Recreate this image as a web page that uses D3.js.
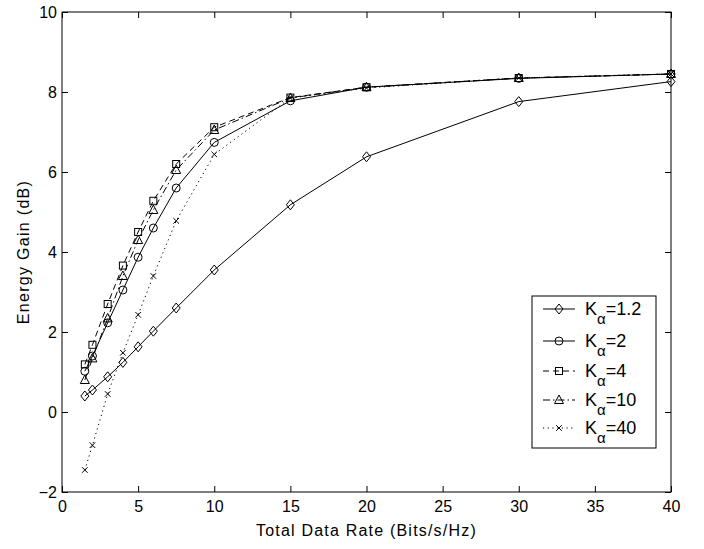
<!DOCTYPE html>
<html>
<head>
<meta charset="utf-8">
<script src="https://cdn.jsdelivr.net/npm/d3@7"></script>
<style>
  body { margin: 0; background: #fff; }
  text { font-family: "Liberation Sans", Arial, Helvetica, sans-serif; fill: #000; }
</style>
</head>
<body>
<div id="chart"></div>
<script>
const rates = [1.5, 2, 3, 4, 5, 6, 7.5, 10, 15, 20, 30, 40];
const gainK12 = [0.4, 0.55, 0.88, 1.24, 1.63, 2.02, 2.6, 3.55, 5.18, 6.38, 7.76, 8.26];
const gainK2 = [1.02, 1.4, 2.23, 3.05, 3.87, 4.6, 5.6, 6.74, 7.78, 8.12, 8.34, 8.45];
const gainK4 = [1.19, 1.68, 2.7, 3.66, 4.5, 5.28, 6.2, 7.12, 7.86, 8.12, 8.35, 8.45];
const gainK10 = [0.8, 1.34, 2.34, 3.4, 4.3, 5.05, 6.05, 7.05, 7.85, 8.12, 8.35, 8.45];
const gainK40 = [-1.45, -0.83, 0.45, 1.48, 2.43, 3.4, 4.78, 6.44, 7.85, 8.1, 8.35, 8.45];
const legendLabels = ['1.2', '2', '4', '10', '40'];
const xTicks = [0, 5, 10, 15, 20, 25, 30, 35, 40];
const yTicks = [-2, 0, 2, 4, 6, 8, 10];

const width = 704;
const height = 549;
const margin = {top: 12, right: 33, bottom: 57, left: 62};
const innerW = width - margin.left - margin.right;
const innerH = height - margin.top - margin.bottom;

const series = [
  {label: legendLabels[0], values: gainK12, marker: 'diamond', dash: null},
  {label: legendLabels[1], values: gainK2, marker: 'circle', dash: null},
  {label: legendLabels[2], values: gainK4, marker: 'square', dash: '6,4'},
  {label: legendLabels[3], values: gainK10, marker: 'triangle', dash: '7,3,1.5,3'},
  {label: legendLabels[4], values: gainK40, marker: 'cross', dash: '1.2,3.5'},
];

const x = d3.scaleLinear().domain([0, 40]).range([0, innerW]);
const y = d3.scaleLinear().domain([-2, 10]).range([innerH, 0]);

const svg = d3.select('#chart').append('svg')
    .attr('width', width)
    .attr('height', height);

const g = svg.append('g')
    .attr('transform', 'translate(' + margin.left + ',' + margin.top + ')');

// axes, MATLAB style: ticks inside, box all round
function tickStyle(sel) {
  sel.select('.domain').remove();
  sel.selectAll('line').attr('stroke', '#000');
  sel.selectAll('text').attr('font-size', 16);
}

g.append('g')
    .attr('transform', 'translate(0,' + innerH + ')')
    .call(d3.axisBottom(x).tickValues(xTicks).tickSize(-6).tickPadding(9))
    .call(tickStyle);
g.append('g')
    .call(d3.axisTop(x).tickValues(xTicks).tickSize(-6).tickFormat(''))
    .call(tickStyle);
g.append('g')
    .call(d3.axisLeft(y).tickValues(yTicks).tickSize(-6).tickPadding(5))
    .call(tickStyle);
g.append('g')
    .attr('transform', 'translate(' + innerW + ',0)')
    .call(d3.axisRight(y).tickValues(yTicks).tickSize(-6).tickFormat(''))
    .call(tickStyle);

g.append('rect')
    .attr('width', innerW)
    .attr('height', innerH)
    .attr('fill', 'none')
    .attr('stroke', '#000')
    .attr('stroke-width', 1);

svg.append('text')
    .attr('x', margin.left + innerW / 2)
    .attr('y', 536)
    .attr('text-anchor', 'middle')
    .attr('font-size', 16)
    .attr('letter-spacing', 1.2)
    .text('Total Data Rate (Bits/s/Hz)');

svg.append('text')
    .attr('transform', 'translate(29,' + (margin.top + innerH / 2) + ') rotate(-90)')
    .attr('text-anchor', 'middle')
    .attr('font-size', 16)
    .attr('letter-spacing', 1.3)
    .text('Energy Gain (dB)');

function drawMarker(sel, type) {
  if (type === 'diamond') {
    sel.append('path').attr('d', 'M0,-5L4,0L0,5L-4,0Z');
  } else if (type === 'circle') {
    sel.append('circle').attr('r', 4);
  } else if (type === 'square') {
    sel.append('rect').attr('x', -3.5).attr('y', -3.5).attr('width', 7).attr('height', 7);
  } else if (type === 'triangle') {
    sel.append('path').attr('d', 'M0,-5L4.5,3.5L-4.5,3.5Z');
  } else {
    sel.append('path').attr('d', 'M-2.8,-2.8L2.8,2.8M-2.8,2.8L2.8,-2.8');
  }
  sel.selectAll('*')
      .attr('fill', 'none')
      .attr('stroke', '#000')
      .attr('stroke-width', 1);
}

const line = d3.line()
    .x(function(d) { return x(d[0]); })
    .y(function(d) { return y(d[1]); });

series.forEach(function(s) {
  const pts = rates.map(function(r, i) { return [r, s.values[i]]; });
  g.append('path')
      .datum(pts)
      .attr('d', line)
      .attr('fill', 'none')
      .attr('stroke', '#000')
      .attr('stroke-width', 1)
      .attr('stroke-dasharray', s.dash);
  g.selectAll(null)
      .data(pts)
    .enter()
    .append('g')
      .attr('transform', function(d) {
        return 'translate(' + x(d[0]) + ',' + y(d[1]) + ')';
      })
      .each(function() { drawMarker(d3.select(this), s.marker); });
});

// legend
const legendX = 532;
const legendY = 296;
const legend = svg.append('g')
    .attr('transform', 'translate(' + legendX + ',' + legendY + ')');
legend.append('rect')
    .attr('width', 124)
    .attr('height', 152)
    .attr('fill', '#fff')
    .attr('stroke', '#000');

const rowY = [13, 45, 75, 104, 132];
series.forEach(function(s, i) {
  const row = legend.append('g')
      .attr('transform', 'translate(0,' + rowY[i] + ')');
  row.append('line')
      .attr('x1', 11).attr('x2', 43)
      .attr('stroke', '#000')
      .attr('stroke-dasharray', s.dash);
  const m = row.append('g').attr('transform', 'translate(27,0)');
  drawMarker(m, s.marker);
  const t = row.append('text')
      .attr('x', 53)
      .attr('y', 6)
      .attr('font-size', 18);
  t.append('tspan').text('K');
  t.append('tspan').attr('dy', 9).attr('font-size', 15).text('\u03b1');
  t.append('tspan').attr('dy', -9).text('=' + s.label);
});
</script>
</body>
</html>
